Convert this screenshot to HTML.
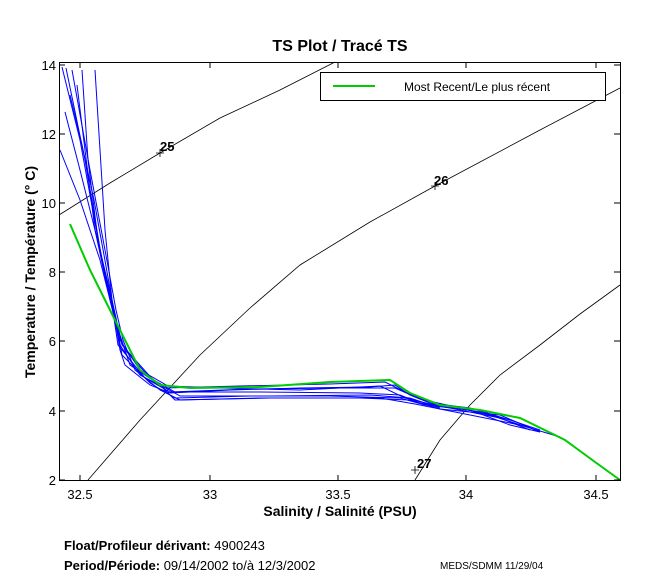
<!DOCTYPE html>
<html><head><style>body{margin:0;background:#fff}svg{display:block}</style></head><body>
<svg width="650" height="580" xmlns="http://www.w3.org/2000/svg" font-family="Liberation Sans, sans-serif">
<rect width="650" height="580" fill="#fff"/>
<text x="340" y="51" font-size="16" font-weight="bold" text-anchor="middle">TS Plot / Tracé TS</text>
<g fill="none" stroke="#000" stroke-width="0.8">
<polyline points="59,215 110,183 160,153 220,118 280,90 335,62"/>
<polyline points="88,480 140,420 200,355 250,308 300,265 370,222 435,186 540,130 620,88"/>
<polyline points="415,480 440,440 470,405 500,375 540,345 580,314 620,285"/>
<path d="M156,153h8M160,149v8M431,186h8M435,182v8M411,470h8M415,466v8"/>
</g>
<g font-size="13" font-weight="bold"><text x="160" y="151">25</text><text x="434" y="185">26</text><text x="417" y="468">27</text></g>
<g fill="none" stroke="#00f" stroke-width="1">
<polyline points="62,67 80,140 100,250 112,300 120,350 125,365 150,385 170,393 230,390 300,388 370,387 395,385 410,395 430,403 470,408 510,420 540,430"/>
<polyline points="66,68 85,160 102,260 114,310 122,355 150,383 175,398 250,396 330,396 400,398 425,405 470,410 510,425 540,432"/>
<polyline points="72,70 90,170 105,250 116,310 123,340 135,370 160,390 180,400 260,398 360,398 410,400 440,409 500,415 540,432"/>
<polyline points="65,112 80,170 100,250 113,310 120,345 140,375 165,388 240,386 330,384 385,382 405,392 435,405 480,412 530,428"/>
<polyline points="60,150 80,200 100,260 115,320 125,350 150,378 175,392 260,392 360,393 400,395 420,403 450,408 500,418"/>
<polyline points="77,85 85,150 95,230 110,300 120,340 140,370 168,386 220,388 300,390 380,386 405,398 430,404 480,410 530,430"/>
<polyline points="82,70 88,160 98,240 112,305 118,345 145,378 170,392 250,389 340,388 395,388 420,399 460,408 510,420"/>
<polyline points="95,70 100,150 105,230 112,300 122,345 155,382 180,396 270,396 370,395 410,398 440,408"/>
<polyline points="70,95 82,145 94,200 104,255 112,300 118,330 130,365 160,385 175,400 270,398 380,398 415,404 445,410 520,425 560,437"/>
<polyline points="560,437 590,458 620,480"/>
</g>
<polyline fill="none" stroke="#0c0" stroke-width="2" points="70,224 90,270 115,320 140,370 160,385 190,388 260,387 330,382 390,380 410,393 440,405 480,410 520,418 565,440 595,462 620,480"/>
<rect x="59.5" y="62.5" width="561" height="418" fill="none" stroke="#000"/>
<g stroke="#000">
<path d="M80,481v-6M210,481v-6M338,481v-6M466,481v-6M596,481v-6M80,62v6M210,62v6M338,62v6M466,62v6M596,62v6"/>
<path d="M59,480h6M59,411h6M59,341h6M59,272h6M59,203h6M59,134h6M59,65h6M620,480h-6M620,411h-6M620,341h-6M620,272h-6M620,203h-6M620,134h-6M620,65h-6"/>
</g>
<g font-size="13" text-anchor="end"><text x="56" y="485">2</text><text x="56" y="416">4</text><text x="56" y="346">6</text><text x="56" y="277">8</text><text x="56" y="208">10</text><text x="56" y="139">12</text><text x="56" y="70">14</text></g>
<g font-size="13" text-anchor="middle"><text x="80" y="499">32.5</text><text x="210" y="499">33</text><text x="338" y="499">33.5</text><text x="466" y="499">34</text><text x="596" y="499">34.5</text></g>
<text x="340" y="516" font-size="14" font-weight="bold" text-anchor="middle">Salinity / Salinité (PSU)</text>
<text transform="translate(35,272) rotate(-90)" font-size="14" font-weight="bold" text-anchor="middle">Temperature / Température (° C)</text>
<rect x="320.5" y="72.5" width="285" height="28" fill="#fff" stroke="#000"/>
<line x1="333" y1="86" x2="375" y2="86" stroke="#0c0" stroke-width="2"/>
<text x="404" y="91" font-size="12">Most Recent/Le plus récent</text>
<text x="64" y="550" font-size="13"><tspan font-weight="bold">Float/Profileur dérivant:</tspan> 4900243</text>
<text x="64" y="570" font-size="13"><tspan font-weight="bold">Period/Période:</tspan> 09/14/2002  to/à  12/3/2002</text>
<text x="440" y="569" font-size="10">MEDS/SDMM  11/29/04</text>
</svg></body></html>
